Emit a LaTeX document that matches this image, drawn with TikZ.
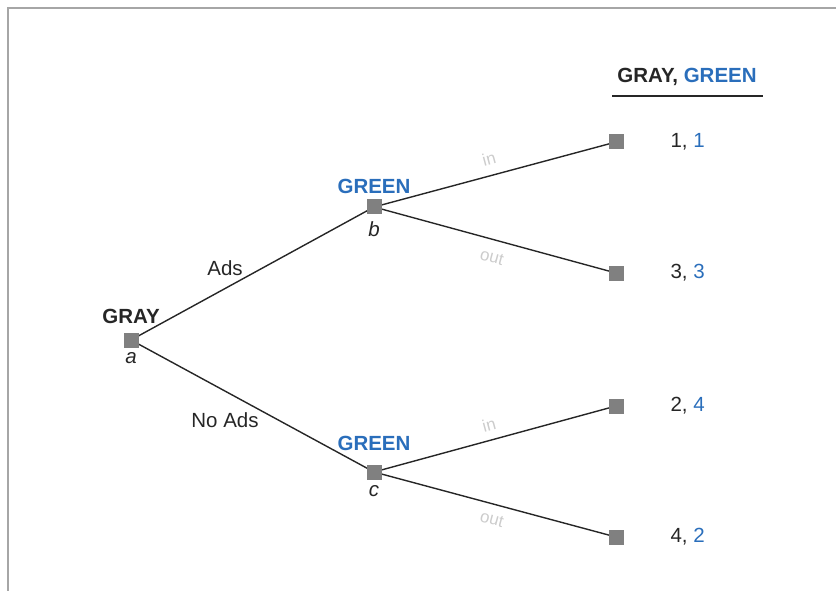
\documentclass[tikz,border=0pt]{standalone}
\usepackage{fontspec}
\setmainfont{Liberation Sans}
\definecolor{sq}{HTML}{808080}
\definecolor{bl}{HTML}{2A6EBB}
\definecolor{tx}{HTML}{262626}
\definecolor{fr}{HTML}{A6A6A6}
\begin{document}
\begin{tikzpicture}[x=1pt,y=-1pt,
  dec/.style={fill=sq,draw=none,minimum size=15pt,inner sep=0pt},
  edge/.style={draw=tx,line width=1.4pt},
  pl/.style={font=\fontsize{20.5}{22}\selectfont\bfseries,text=tx},
  plb/.style={font=\fontsize{20.5}{22}\selectfont\bfseries,text=bl},
  lett/.style={font=\fontsize{20.5}{22}\selectfont\itshape,text=tx},
  act/.style={font=\fontsize{20.5}{22}\selectfont,text=tx},
  faint/.style={font=\fontsize{17}{19}\selectfont,text=black!20},
  pay/.style={font=\fontsize{20.5}{22}\selectfont,text=tx,anchor=west}]
\useasboundingbox (0,0) rectangle (836,591);
\draw[fr,line width=2pt] (8,620) -- (8,8) -- (860,8);
% nodes
\node[dec] (a) at (131,340) {};
\node[dec] (b) at (374,207) {};
\node[dec] (c) at (374,472) {};
\node[dec] (l1) at (616,142) {};
\node[dec] (l2) at (616,273) {};
\node[dec] (l3) at (616,406) {};
\node[dec] (l4) at (616,537) {};
% edges
\draw[edge] (a.center) -- (b.center);
\draw[edge] (a.center) -- (c.center);
\draw[edge] (b.center) -- (l1.center);
\draw[edge] (b.center) -- (l2.center);
\draw[edge] (c.center) -- (l3.center);
\draw[edge] (c.center) -- (l4.center);
\node[dec] at (a) {};
\node[dec] at (b) {};
\node[dec] at (c) {};
\node[dec] at (l1) {};
\node[dec] at (l2) {};
\node[dec] at (l3) {};
\node[dec] at (l4) {};
% labels
\node[pl] (ga) at (131,316) {GRAY};
\node[lett] (la) at (131,358) {a};
\node[plb] (gb) at (374,186) {GREEN};
\node[lett] (lb) at (374,229) {b};
\node[plb] (gc) at (374,443) {GREEN};
\node[lett] (lc) at (374,491) {c};
\node[act] (ads) at (225,268) {Ads};
\node[act] (noads) at (225,420) {No Ads};
\node[faint,rotate=15] (in1) at (489,159) {in};
\node[faint,rotate=-15] (out1) at (492,257) {out};
\node[faint,rotate=15] (in2) at (489,425) {in};
\node[faint,rotate=-15] (out2) at (492,519) {out};
% payoffs
\node[pay] (p1) at (667,142) {1, \textcolor{bl}{1}};
\node[pay] (p2) at (667,273) {3, \textcolor{bl}{3}};
\node[pay] (p3) at (667,406) {2, \textcolor{bl}{4}};
\node[pay] (p4) at (667,537) {4, \textcolor{bl}{2}};
% header
\node[pl] (hd) at (687,77) {GRAY, \textcolor{bl}{GREEN}};
\coordinate (u1) at (612,96);
\coordinate (u2) at (763,96);
\draw[tx,line width=1.3pt] (u1) -- (u2);
\end{tikzpicture}
\end{document}
